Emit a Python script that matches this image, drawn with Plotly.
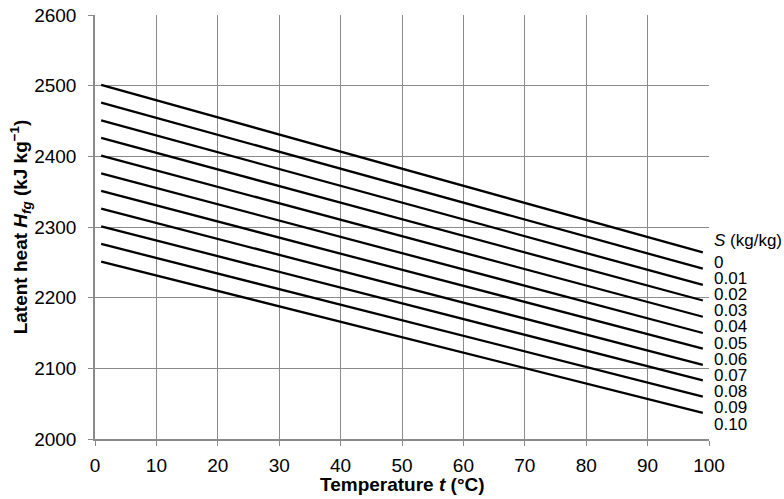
import plotly.graph_objects as go

# Data
salinity_labels = ["0", "0.01", "0.02", "0.03", "0.04", "0.05", "0.06", "0.07", "0.08", "0.09", "0.10"]
t_points = [1, 99]
h_start = [2501, 2476, 2451, 2426, 2401, 2376, 2351, 2326, 2301, 2276, 2251]
h_end = [2264, 2241, 2218, 2196, 2173, 2150, 2128, 2105, 2083, 2060, 2037]
x_ticks = [0, 10, 20, 30, 40, 50, 60, 70, 80, 90, 100]
y_ticks = [2000, 2100, 2200, 2300, 2400, 2500, 2600]

FONT = "Liberation Sans, Arial, sans-serif"

fig = go.Figure()
for lab, a, b in zip(salinity_labels, h_start, h_end):
    fig.add_trace(go.Scatter(
        x=t_points, y=[a, b], mode="lines", name=lab,
        line=dict(color="black", width=2.3), showlegend=False,
        hoverinfo="skip"))

# plot area pixel geometry (for label placement)
top_px, bot_px = 15, 439
def paper_y(px):
    return (bot_px - px) / (bot_px - top_px)

LAB_SIZE = 17
ann = [dict(text="<i>S</i> (kg/kg)", x=1.0, xref="paper", xshift=3, xanchor="left",
            y=paper_y(241), yref="paper", yanchor="middle", showarrow=False,
            font=dict(family=FONT, size=LAB_SIZE, color="black"))]
start_px, step_px = 262, 16.2
for i, lab in enumerate(salinity_labels):
    ann.append(dict(text=lab, x=1.0, xref="paper", xshift=3, xanchor="left",
                    y=paper_y(start_px + i * step_px), yref="paper", yanchor="middle",
                    showarrow=False, font=dict(family=FONT, size=LAB_SIZE, color="black")))

# x-axis title as annotation for exact placement
ann.append(dict(text="<b>Temperature <i>t</i> (°C)</b>", x=0.5, xref="paper", xanchor="center",
                y=paper_y(485), yref="paper", yanchor="middle", showarrow=False,
                font=dict(family=FONT, size=19, color="black")))

GRID = "#8a8a8a"
fig.update_layout(
    width=784, height=499,
    margin=dict(l=95, r=75, t=15, b=60),
    paper_bgcolor="white", plot_bgcolor="white",
    font=dict(family=FONT, size=19, color="black"),
    annotations=ann,
    xaxis=dict(range=[0, 100], tickvals=x_ticks, showgrid=True, gridcolor=GRID,
               gridwidth=1, showline=True, linecolor=GRID, linewidth=1.5,
               ticks="outside", ticklen=5, tickcolor=GRID, zeroline=False,
               automargin=False, ticklabelstandoff=3,
               tickfont=dict(family=FONT, size=19)),
    yaxis=dict(range=[2000, 2600], tickvals=y_ticks, showgrid=True, gridcolor=GRID,
               gridwidth=1, showline=True, linecolor=GRID, linewidth=1.5,
               ticks="outside", ticklen=5, tickcolor=GRID, zeroline=False,
               automargin=False, ticklabelstandoff=8,
               tickfont=dict(family=FONT, size=19),
               title=dict(text="<b>Latent heat <i>H</i><sub><i>fg</i></sub> (kJ kg<sup>−1</sup>)</b>",
                          standoff=2, font=dict(family=FONT, size=19))),
)

fig.write_html("out.html")
